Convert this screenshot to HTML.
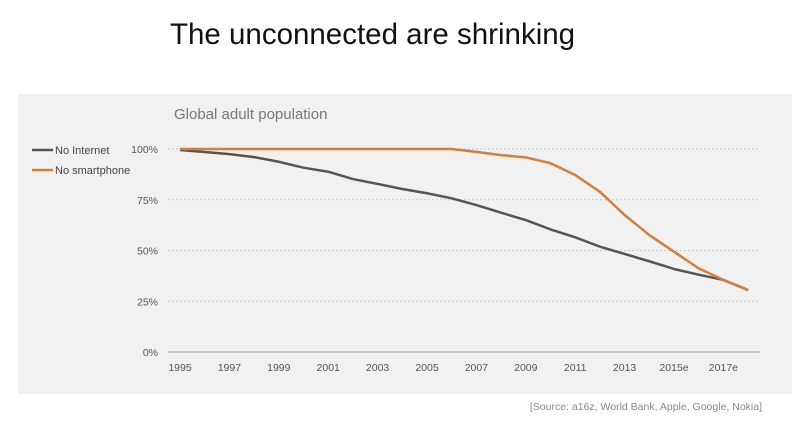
<!DOCTYPE html>
<html><head><meta charset="utf-8"><style>
body{margin:0;background:#fff;width:800px;height:418px;overflow:hidden;font-family:"Liberation Sans",sans-serif}
</style></head><body>
<svg width="800" height="418" xmlns="http://www.w3.org/2000/svg">
<text x="170" y="44" font-size="29.5" fill="#111">The unconnected are shrinking</text>
<rect x="18" y="94" width="774" height="300" fill="#f1f1f1"/>
<text x="174" y="119" font-size="15" fill="#777">Global adult population</text>
<line x1="32" y1="150" x2="53" y2="150" stroke="#555" stroke-width="2.5"/>
<text x="55" y="154" font-size="11" fill="#444">No Internet</text>
<line x1="32" y1="170" x2="53" y2="170" stroke="#d0803a" stroke-width="2.5"/>
<text x="55" y="174" font-size="11" fill="#444">No smartphone</text>
<g id="grid"></g><g id="xl"></g><g id="lines"></g>
<text x="762" y="410" font-size="10.5" fill="#888" text-anchor="end">[Source: a16z, World Bank, Apple, Google, Nokia]</text>
</svg>
<script>
const years=[1995,1996,1997,1998,1999,2000,2001,2002,2003,2004,2005,2006,2007,2008,2009,2010,2011,2012,2013,2014,2015,2016,2017,2018];
const noInternet=[99.5,98.5,97.5,96,93.7,90.8,88.8,85.2,82.8,80.3,78.2,75.7,72.4,68.6,65,60.4,56.5,51.9,48.3,44.7,40.9,38.1,35.5,30.5];
const noSmartphone=[100,100,100,100,100,100,100,100,100,100,100,100,98.6,97,95.9,93,87.2,78.9,67.5,57.6,49.4,41.2,35.5,30.5];
const yTicks=[0,25,50,75,100];
const xTickLabels=["1995","1997","1999","2001","2003","2005","2007","2009","2011","2013","2015e","2017e"];
const NS="http://www.w3.org/2000/svg";
const xs=y=>180+(y-1995)*24.7;
const ys=v=>352-v*2.03;
function mk(t,a,p){const e=document.createElementNS(NS,t);for(const k in a)e.setAttribute(k,a[k]);document.getElementById(p).appendChild(e);return e;}
yTicks.forEach(v=>{
 const l=mk('line',{x1:168,x2:760,y1:ys(v),y2:ys(v),stroke:v?'#bbb':'#aaa','stroke-width':v?1:1.2,'stroke-dasharray':v?'1.5,2.5':''},'grid');
 
 
 const t=mk('text',{x:158,y:ys(v)+4,'font-size':10.5,fill:'#555','text-anchor':'end'},'grid');t.textContent=v+'%';
 
 
});
xTickLabels.forEach((s,i)=>{
 const t=mk('text',{x:xs(1995+2*i),y:371,'font-size':10.5,fill:'#555','text-anchor':'middle'},'xl');t.textContent=s;
 
 
});
function line(d,c,n){const p=mk('polyline',{points:d.map((v,i)=>xs(years[i])+','+ys(v)).join(' '),fill:'none',stroke:c,'stroke-width':2.5,'stroke-linejoin':'round'},'lines');
 
 }
line(noInternet,'#555','no-internet-line');
line(noSmartphone,'#d0803a','no-smartphone-line');
</script>
</body></html>
